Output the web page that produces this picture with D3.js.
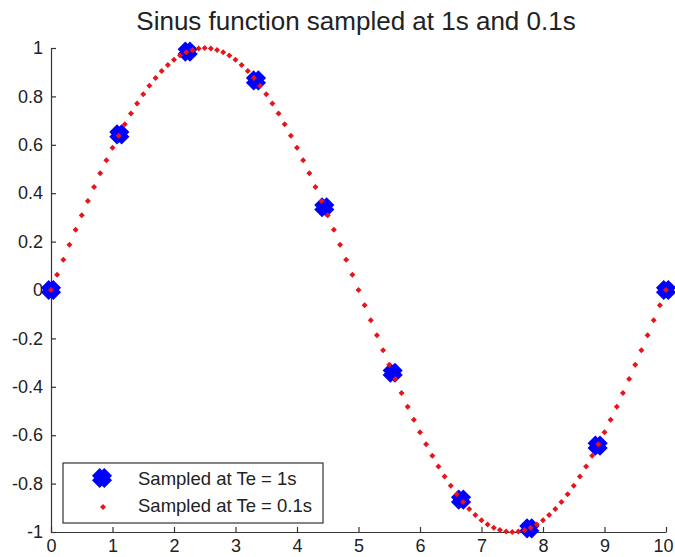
<!DOCTYPE html>
<html>
<head>
<meta charset="utf-8">
<script src="https://cdn.jsdelivr.net/npm/d3@7"></script>
<style>
  body { margin: 0; background: #fff; }
  text { font-family: "Liberation Sans", Arial, sans-serif; fill: #222; }
</style>
</head>
<body>
<svg id="chart" width="675" height="557"></svg>
<script>
const svg = d3.select('#chart')

const title = 'Sinus function sampled at 1s and 0.1s'
const legendLabels = ['Sampled at Te = 1s', 'Sampled at Te = 0.1s']

// coarse samples (Te = 1s)
const coarseX = [0, 1.111, 2.222, 3.333, 4.444, 5.556, 6.667, 7.778, 8.889, 10]
const coarseY = [0, 0.643, 0.985, 0.866, 0.342, -0.342, -0.866, -0.985, -0.643, 0]

// fine samples (Te = 0.1s)
const fineX = [0, 0.1, 0.2, 0.3, 0.4, 0.5, 0.6, 0.7, 0.8, 0.9,
  1, 1.1, 1.2, 1.3, 1.4, 1.5, 1.6, 1.7, 1.8, 1.9,
  2, 2.1, 2.2, 2.3, 2.4, 2.5, 2.6, 2.7, 2.8, 2.9,
  3, 3.1, 3.2, 3.3, 3.4, 3.5, 3.6, 3.7, 3.8, 3.9,
  4, 4.1, 4.2, 4.3, 4.4, 4.5, 4.6, 4.7, 4.8, 4.9,
  5, 5.1, 5.2, 5.3, 5.4, 5.5, 5.6, 5.7, 5.8, 5.9,
  6, 6.1, 6.2, 6.3, 6.4, 6.5, 6.6, 6.7, 6.8, 6.9,
  7, 7.1, 7.2, 7.3, 7.4, 7.5, 7.6, 7.7, 7.8, 7.9,
  8, 8.1, 8.2, 8.3, 8.4, 8.5, 8.6, 8.7, 8.8, 8.9,
  9, 9.1, 9.2, 9.3, 9.4, 9.5, 9.6, 9.7, 9.8, 9.9, 10]
const fineY = [0, 0.063, 0.125, 0.187, 0.249, 0.309, 0.368, 0.426, 0.482, 0.536,
  0.588, 0.637, 0.685, 0.729, 0.771, 0.809, 0.844, 0.876, 0.905, 0.930,
  0.951, 0.969, 0.982, 0.992, 0.998, 1, 0.998, 0.992, 0.982, 0.969,
  0.951, 0.930, 0.905, 0.876, 0.844, 0.809, 0.771, 0.729, 0.685, 0.637,
  0.588, 0.536, 0.482, 0.426, 0.368, 0.309, 0.249, 0.187, 0.125, 0.063,
  0, -0.063, -0.125, -0.187, -0.249, -0.309, -0.368, -0.426, -0.482, -0.536,
  -0.588, -0.637, -0.685, -0.729, -0.771, -0.809, -0.844, -0.876, -0.905, -0.930,
  -0.951, -0.969, -0.982, -0.992, -0.998, -1, -0.998, -0.992, -0.982, -0.969,
  -0.951, -0.930, -0.905, -0.876, -0.844, -0.809, -0.771, -0.729, -0.685, -0.637,
  -0.588, -0.536, -0.482, -0.426, -0.368, -0.309, -0.249, -0.187, -0.125, -0.063, 0]

const xTicks = [0, 1, 2, 3, 4, 5, 6, 7, 8, 9, 10]
const yTicks = [-1, -0.8, -0.6, -0.4, -0.2, 0, 0.2, 0.4, 0.6, 0.8, 1]

const plotLeft = 51, plotRight = 666, plotTop = 48, plotBottom = 532
const axisColor = '#333'
const blue = '#0000ff'
const red = '#e8141c'
const fontFamily = '"Liberation Sans", Arial, sans-serif'

const xScale = d3.scaleLinear().domain([0, 10]).range([plotLeft, plotRight])
const yScale = d3.scaleLinear().domain([-1, 1]).range([plotBottom, plotTop])

// axes: ticks pointing inward, no box
const xAxis = svg.append('g')
  .attr('transform', `translate(0,${plotBottom})`)
  .call(d3.axisBottom(xScale).tickValues(xTicks).tickSizeInner(-5).tickSizeOuter(0).tickFormat(d3.format('d')))
const yAxis = svg.append('g')
  .attr('transform', `translate(${plotLeft},0)`)
  .call(d3.axisLeft(yScale).tickValues(yTicks).tickSizeInner(-5).tickSizeOuter(0).tickPadding(8).tickFormat(d => String(+d.toFixed(1))))

svg.selectAll('.domain').attr('stroke', axisColor).attr('stroke-width', 1.2)
svg.selectAll('.tick line').attr('stroke', axisColor).attr('stroke-width', 1.2)
xAxis.selectAll('.tick text')
  .attr('y', 20).attr('dy', null)
  .attr('x', d => d === 10 ? -3 : 0)
  .attr('font-size', 18).attr('fill', '#222').attr('font-family', fontFamily)
yAxis.selectAll('.tick text')
  .attr('font-size', 18).attr('fill', '#222').attr('font-family', fontFamily)

// coarse markers: thick X, almost a filled blob
const xMark = (g, s) => {
  g.append('line').attr('x1', -s).attr('y1', -s).attr('x2', s).attr('y2', s)
  g.append('line').attr('x1', -s).attr('y1', s).attr('x2', s).attr('y2', -s)
  g.selectAll('line').attr('stroke', blue).attr('stroke-width', 11).attr('stroke-linecap', 'butt')
}
const redDot = d3.symbol().type(d3.symbolSquare).size(18)

svg.append('g')
  .selectAll('g')
  .data(coarseX)
  .enter()
  .append('g')
    .attr('transform', (d, i) => `translate(${xScale(d)},${yScale(coarseY[i])})`)
    .each(function () { xMark(d3.select(this), 6.2) })

svg.append('g')
  .selectAll('path')
  .data(fineX)
  .enter()
  .append('path')
    .attr('d', redDot)
    .attr('fill', red)
    .attr('transform', (d, i) => `translate(${xScale(d)},${yScale(fineY[i])}) rotate(45)`)

// title
svg.append('text')
  .attr('x', 356).attr('y', 30)
  .attr('text-anchor', 'middle')
  .attr('font-size', 26)
  .attr('fill', '#111')
  .text(title)

// legend
const legend = svg.append('g')
legend.append('rect')
  .attr('x', 63).attr('y', 463).attr('width', 260).attr('height', 60)
  .attr('fill', '#fff').attr('stroke', axisColor).attr('stroke-width', 1.2)
legend.append('g').attr('transform', 'translate(102,478)').call(g => xMark(g, 6.2))
legend.append('path').attr('d', redDot).attr('fill', red).attr('transform', 'translate(103,507) rotate(45)')
legend.selectAll('text.lab')
  .data(legendLabels)
  .enter()
  .append('text')
    .attr('class', 'lab')
    .attr('x', 138)
    .attr('y', (d, i) => 485 + i * 27)
    .attr('font-size', 18.5)
    .attr('fill', '#222')
    .text(d => d)
</script>
</body>
</html>
